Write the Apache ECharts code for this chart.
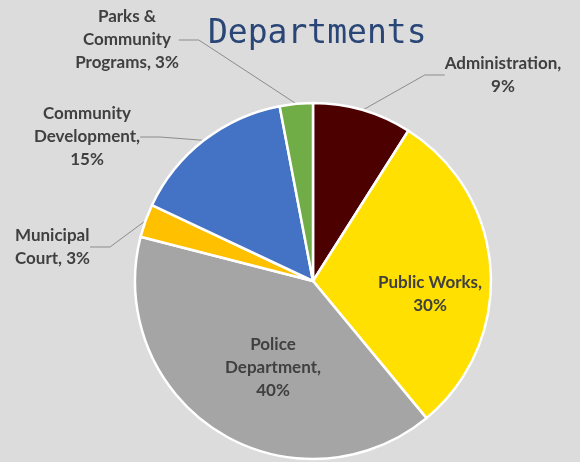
<!DOCTYPE html>
<html>
<head>
<meta charset="utf-8">
<script src="https://cdn.jsdelivr.net/npm/echarts@6/dist/echarts.min.js"></script>
<style>
  html, body { margin: 0; padding: 0; background: #dcdcdc; }
  #chart { width: 580px; height: 462px; }
</style>
</head>
<body>
<div id="chart"></div>
<script>
// Department share of the budget, clockwise from 12 o'clock
const departments = ['Administration', 'Public Works', 'Police Department', 'Municipal Court', 'Community Development', 'Parks & Community Programs'];
const shares = [9, 30, 40, 3, 15, 3];
const sliceColors = ['#4d0000', '#ffe000', '#a5a5a5', '#ffc000', '#4472c4', '#70ad47'];
// Label text broken into lines the way it is printed
const labelLines = [
  ['Administration,', '9%'],
  ['Public Works,', '30%'],
  ['Police', 'Department,', '40%'],
  ['Municipal', 'Court, 3%'],
  ['Community', 'Development,', '15%'],
  ['Parks &', 'Community', 'Programs, 3%']
];
// Which labels sit on the slice itself
const insideLabel = [false, true, true, false, false, false];

// Where each label block is anchored (centre of the block unless left-aligned)
const labelPlacement = {
  0: { x: 503, y: 75, align: 'center' },
  1: { x: 430, y: 294, align: 'center' },
  2: { x: 273, y: 368, align: 'center' },
  3: { x: 15, y: 247, align: 'left' },
  4: { x: 87, y: 137, align: 'center' },
  5: { x: 127, y: 40, align: 'center' }
};

const chart = echarts.init(document.getElementById('chart'), null, { renderer: 'canvas' });

const data = departments.map((name, i) => ({
  name: name,
  value: shares[i],
  itemStyle: { color: sliceColors[i] },
  label: {
    position: insideLabel[i] ? 'inside' : 'outside',
    formatter: labelLines[i].join('\n')
  },
  labelLine: { show: !insideLabel[i] }
}));

chart.setOption({
  backgroundColor: '#dcdcdc',
  animation: false,
  title: {
    text: 'Departments',
    left: 203,
    top: 13,
    textStyle: {
      fontFamily: 'DejaVu Sans Mono',
      fontSize: 33,
      fontWeight: 'normal',
      color: '#2a4676'
    }
  },
  series: [{
    type: 'pie',
    center: [313, 281],
    radius: 178,
    startAngle: 90,
    clockwise: true,
    data: data,
    itemStyle: { borderColor: '#ffffff', borderWidth: 2.5 },
    label: {
      color: '#404040',
      fontFamily: 'Lato',
      fontWeight: 'bold',
      fontSize: 17,
      lineHeight: 23,
      align: 'center'
    },
    labelLine: {
      show: true,
      length: 20,
      length2: 20,
      smooth: false,
      lineStyle: { color: '#8c8c8c', width: 1 }
    },
    labelLayout: function (params) {
      const p = labelPlacement[params.dataIndex];
      if (!p) return {};
      return { x: p.x, y: p.y, align: p.align, verticalAlign: 'middle' };
    }
  }]
});
</script>
</body>
</html>
